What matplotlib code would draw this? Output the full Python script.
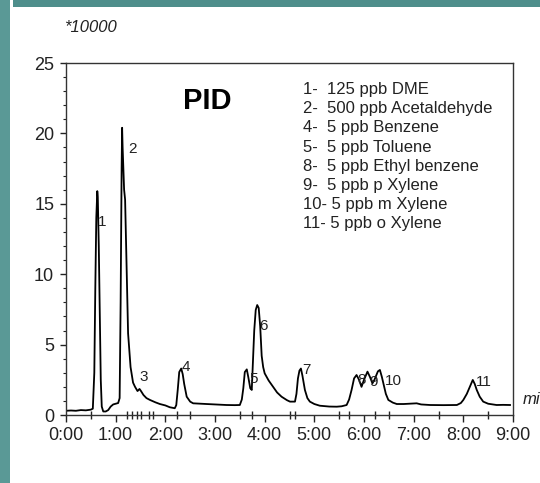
import matplotlib
matplotlib.use("Agg")
import matplotlib.pyplot as plt
from matplotlib.patches import Rectangle
from matplotlib.ticker import FixedLocator, FuncFormatter, MultipleLocator

plt.rcParams['font.family'] = ['Liberation Sans', 'DejaVu Sans']

# chromatogram trace (time in min, signal in units of 10000)
time = [0.00, 0.10, 0.20, 0.30, 0.40, 0.50, 0.54, 0.57, 0.59, 0.61, 0.63, 0.64,
        0.66, 0.68, 0.70, 0.72, 0.75, 0.80, 0.85, 0.90, 0.95, 1.00, 1.05, 1.08,
        1.10, 1.12, 1.13, 1.14, 1.17, 1.19, 1.22, 1.25, 1.30, 1.35, 1.39, 1.44,
        1.48, 1.51, 1.56, 1.62, 1.69, 1.80, 1.89, 2.00, 2.09, 2.19, 2.22, 2.25,
        2.28, 2.32, 2.35, 2.38, 2.43, 2.50, 2.56, 2.70, 2.83, 3.00, 3.23, 3.40,
        3.50, 3.54, 3.57, 3.60, 3.64, 3.67, 3.71, 3.74, 3.76, 3.79, 3.82, 3.85,
        3.88, 3.91, 3.94, 3.97, 4.00, 4.08, 4.17, 4.25, 4.34, 4.45, 4.51, 4.61,
        4.64, 4.67, 4.70, 4.73, 4.76, 4.81, 4.86, 4.91, 5.00, 5.11, 5.30, 5.45,
        5.55, 5.65, 5.70, 5.75, 5.80, 5.85, 5.90, 5.95, 6.00, 6.07, 6.12, 6.17,
        6.21, 6.28, 6.32, 6.36, 6.39, 6.44, 6.49, 6.58, 6.66, 6.80, 7.06, 7.15,
        7.33, 7.60, 7.87, 7.95, 8.00, 8.07, 8.13, 8.19, 8.23, 8.27, 8.33, 8.40,
        8.50, 8.67, 8.80, 8.94]
signal = [0.30, 0.32, 0.30, 0.35, 0.33, 0.38, 0.45, 3.0, 9.0, 14.0, 15.9, 15.5,
          12.0, 7.0, 2.5, 0.6, 0.25, 0.25, 0.35, 0.6, 0.75, 0.8, 0.85, 1.2,
          8.0, 17.5, 20.4, 19.0, 16.0, 15.3, 10.5, 5.8, 3.4, 2.3, 2.0, 1.7,
          1.85, 1.7, 1.42, 1.2, 1.07, 0.9, 0.78, 0.68, 0.55, 0.48, 0.7, 1.8,
          3.05, 3.3, 2.9, 2.2, 1.3, 0.95, 0.83, 0.8, 0.78, 0.75, 0.71, 0.70,
          0.71, 1.1, 1.9, 3.05, 3.24, 2.7, 1.9, 1.78, 3.5, 6.0, 7.46, 7.81,
          7.6, 6.3, 4.2, 3.4, 2.96, 2.45, 2.0, 1.6, 1.3, 1.05, 0.95, 0.95,
          1.5, 2.6, 3.15, 3.3, 2.8, 1.78, 1.2, 0.95, 0.78, 0.66, 0.6, 0.59,
          0.62, 0.71, 1.1, 1.78, 2.6, 2.84, 2.5, 2.0, 2.5, 3.08, 2.7, 2.25,
          2.5, 3.1, 3.2, 2.7, 2.25, 1.5, 1.07, 0.88, 0.78, 0.78, 0.83, 0.75,
          0.71, 0.70, 0.71, 0.85, 1.07, 1.5, 2.0, 2.49, 2.2, 1.78, 1.3, 0.95,
          0.8, 0.71, 0.72, 0.71]

# peak numbers and where they are written
peak_ids = ["1", "2", "3", "4", "5", "6", "7", "8", "9", "10", "11"]
peak_t = [0.73, 1.34, 1.56, 2.42, 3.77, 3.97, 4.85, 5.95, 6.19, 6.59, 8.42]
peak_y = [13.7, 18.9, 2.72, 3.43, 2.56, 6.32, 3.2, 2.49, 2.37, 2.44, 2.37]

legend_lines = ["1-  125 ppb DME", "2-  500 ppb Acetaldehyde", "4-  5 ppb Benzene",
                "5-  5 ppb Toluene", "8-  5 ppb Ethyl benzene", "9-  5 ppb p Xylene",
                "10- 5 ppb m Xylene", "11- 5 ppb o Xylene"]

# event marks on the time axis besides the half minutes
event_ticks = [1.22, 1.32, 1.42, 1.68, 1.76, 2.24, 3.74, 4.61, 5.70, 6.22]

W, H = 540, 483
fig = plt.figure(figsize=(W / 100, H / 100), dpi=100)
fig.patch.set_facecolor("white")

teal = "#4e8e8b"
fig.patches.append(Rectangle((0, 0), 10 / W, 1, transform=fig.transFigure,
                             facecolor="#5a9996", edgecolor="none"))
fig.patches.append(Rectangle((13 / W, 1 - 7 / H), 1, 7 / H, transform=fig.transFigure,
                             facecolor=teal, edgecolor="none"))

ax = fig.add_axes([66 / W, 1 - 415 / H, (513 - 66) / W, (415 - 63) / H])
ax.plot(time, signal, color="black", lw=1.3)

ax.set_xlim(0, 9)
ax.set_ylim(0, 25)

for s in ax.spines.values():
    s.set_color("#333333")
    s.set_linewidth(1.0)

ax.xaxis.set_major_locator(MultipleLocator(1))
ax.xaxis.set_major_formatter(FuncFormatter(lambda v, p: "%d:00" % round(v)))
ax.xaxis.set_minor_locator(FixedLocator(sorted([0.5 + i for i in range(9)] + event_ticks)))
ax.yaxis.set_major_locator(MultipleLocator(5))
ax.yaxis.set_minor_locator(MultipleLocator(1))

ax.tick_params(axis="x", which="major", direction="out", length=5, width=1,
               labelsize=13, pad=4, colors="#222222")
ax.tick_params(axis="x", which="minor", direction="inout", length=6, width=1,
               colors="#222222")
ax.tick_params(axis="y", which="major", direction="out", length=4.5, width=1,
               labelsize=13, pad=4, colors="#222222")
ax.tick_params(axis="y", which="minor", direction="out", length=2.5, width=0.8,
               colors="#222222")

for lab, t, y in zip(peak_ids, peak_t, peak_y):
    ax.text(t, y, lab, fontsize=11, ha="center", va="center", color="#222222")

ax.text(1.0 + 10 / 447, 15 / 352, "min", transform=ax.transAxes, fontsize=12,
        style="italic", ha="left", va="center", clip_on=False, color="#222222")

fig.text(90 / W, 1 - 27 / H, "*10000", fontsize=12, style="italic",
         ha="center", va="center", color="#222222")
fig.text(207 / W, 1 - 101 / H, "PID", fontsize=21, fontweight="bold",
         ha="center", va="center", color="black")

for i, line in enumerate(legend_lines):
    fig.text(303 / W, 1 - (89.5 + 19.2 * i) / H, line, fontsize=12,
             ha="left", va="center", color="#222222")

fig.savefig("out.png", dpi=100)
